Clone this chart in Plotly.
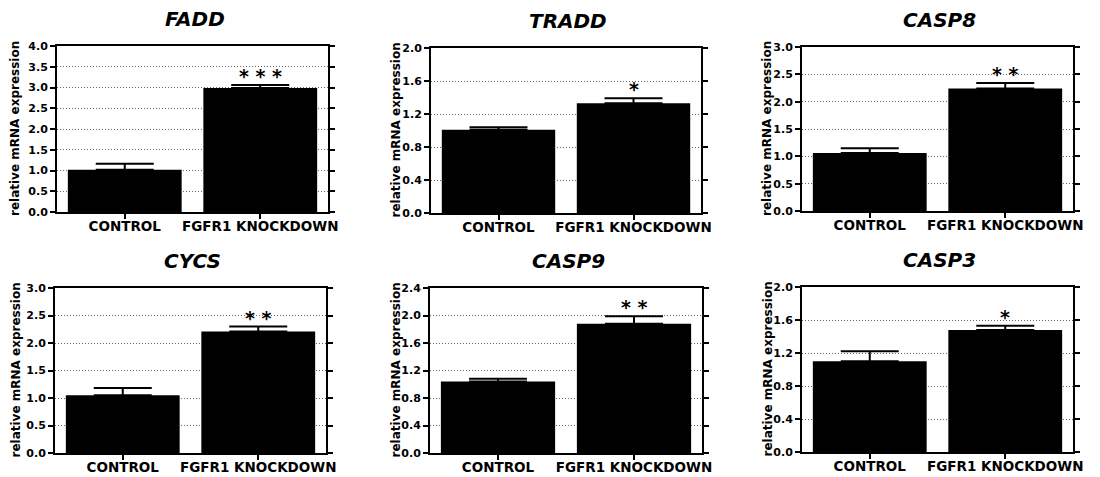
import plotly.graph_objects as go

genes = ["FADD", "TRADD", "CASP8", "CYCS", "CASP9", "CASP3"]
categories = ["CONTROL", "FGFR1 KNOCKDOWN"]
control_mean = [1.02, 1.01, 1.06, 1.05, 1.04, 1.10]
control_err = [0.14, 0.03, 0.09, 0.13, 0.04, 0.12]
kd_mean = [2.99, 1.33, 2.24, 2.21, 1.88, 1.48]
kd_err = [0.07, 0.06, 0.10, 0.09, 0.11, 0.05]
y_max = [4.0, 2.0, 3.0, 3.0, 2.4, 2.0]
y_dtick = [0.5, 0.4, 0.5, 0.5, 0.4, 0.4]
significance = ["* * *", "*", "* *", "* *", "* *", "*"]
y_title = "relative mRNA expression"

W, H = 1100, 477
# panel boxes in pixels: left, right, top, bottom
boxes = [
    (57, 328, 46, 212),
    (431, 701, 48, 213),
    (802, 1073, 47, 211),
    (55, 326, 288, 453),
    (430, 702, 288, 453),
    (802, 1073, 287, 452),
]
ytitle_offset = [42, 36, 35, 40, 35, 35]

FONT = "DejaVu Sans"
fig = go.Figure()
annotations = []

for i, g in enumerate(genes):
    n = "" if i == 0 else str(i + 1)
    l, r, t, b = boxes[i]
    fig.add_trace(go.Bar(
        x=categories,
        y=[control_mean[i], kd_mean[i]],
        width=0.84,
        marker=dict(color="black", line=dict(width=0)),
        error_y=dict(type="data", symmetric=False,
                     array=[control_err[i], kd_err[i]],
                     arrayminus=[0, 0],
                     color="black", thickness=2, width=29),
        xaxis="x" + n, yaxis="y" + n,
        showlegend=False, hoverinfo="skip",
    ))
    fig.layout["xaxis" + n] = dict(
        domain=[l / W, r / W], anchor="y" + n, automargin=False,
        type="category", range=[-0.5, 1.5],
        showline=True, linecolor="black", linewidth=2, mirror=True,
        ticks="outside", ticklen=5, tickwidth=2, tickcolor="black",
        ticklabelstandoff=-4,
        tickfont=dict(family=FONT, size=13.5, color="black", weight="bold"),
        showgrid=False,
    )
    fig.layout["yaxis" + n] = dict(
        domain=[1 - b / H, 1 - t / H], anchor="x" + n, automargin=False,
        range=[0, y_max[i]], dtick=y_dtick[i], tick0=0, tickformat=".1f",
        showline=True, linecolor="black", linewidth=2, mirror="ticks",
        ticks="outside", ticklen=5, tickwidth=1.5, tickcolor="black",
        tickfont=dict(family=FONT, size=11, color="black", weight="bold"),
        showgrid=True, gridcolor="#666666", griddash="1px,2px", gridwidth=1,
        zeroline=False,
    )
    annotations.append(dict(
        text="<b><i>%s</i></b>" % g, xref="paper", yref="paper",
        x=(l + r) / 2 / W + 2 / W, y=1 - (t - 27) / H,
        xanchor="center", yanchor="middle", showarrow=False,
        font=dict(family=FONT, size=20, color="black"),
    ))
    annotations.append(dict(
        text="<b>%s</b>" % y_title, xref="paper", yref="paper",
        x=(l - ytitle_offset[i]) / W, y=1 - ((t + b) / 2) / H,
        xanchor="center", yanchor="middle", textangle=-90, showarrow=False,
        font=dict(family=FONT, size=12, color="black"),
    ))
    annotations.append(dict(
        text="<b>%s</b>" % significance[i], xref="x" + n, yref="y" + n,
        x=1, y=kd_mean[i] + kd_err[i],
        xanchor="center", yanchor="bottom", yshift=-4, showarrow=False,
        font=dict(family=FONT, size=19, color="black"),
    ))

fig.update_layout(
    width=W, height=H,
    margin=dict(l=0, r=0, t=0, b=0, autoexpand=False),
    paper_bgcolor="white", plot_bgcolor="white",
    annotations=annotations,
    bargap=0.16,
)
fig.write_html("out.html", config={"displayModeBar": False},
               post_script="document.body.style.margin='0px';")
